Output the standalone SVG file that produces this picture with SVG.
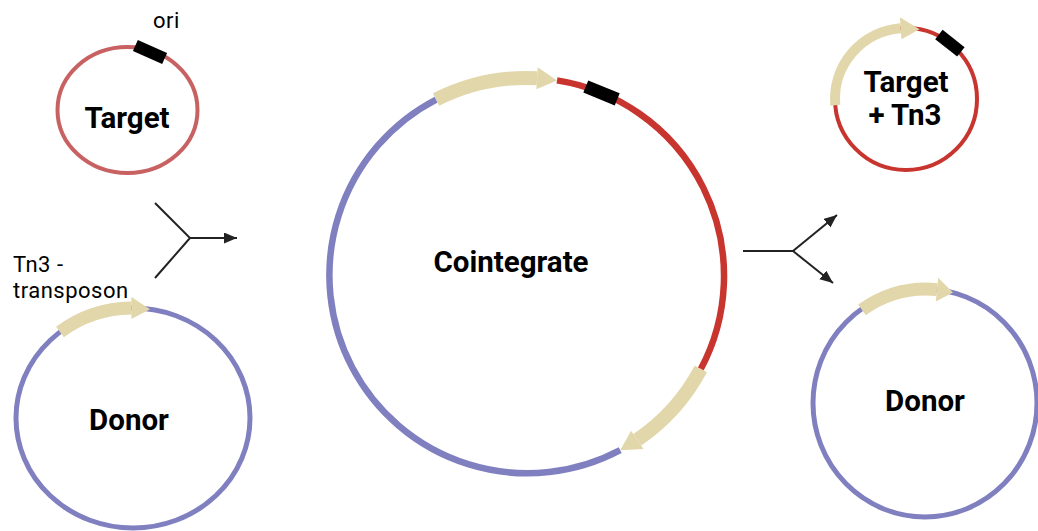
<svg xmlns="http://www.w3.org/2000/svg" width="1038" height="531" viewBox="0 0 1038 531">
<style>
.lbl{font-family:Roboto,"Liberation Sans",sans-serif;font-weight:bold;font-size:29.5px;fill:#000;text-anchor:middle}
.sm{font-family:Roboto,"Liberation Sans",sans-serif;font-size:22px;fill:#000}
.purple{fill:none;stroke:#8080c0}
.red{fill:none;stroke:#c8342e}
.tanb{fill:none;stroke:#e2d6ab}
.tanh{fill:#e2d6ab}
.ori{fill:#000}
.con{fill:none;stroke:#222;stroke-width:2}
</style>
<defs>
<marker id="ah" markerUnits="userSpaceOnUse" markerWidth="14" markerHeight="12" refX="13" refY="5.5" orient="auto">
<path d="M0,0 L13,5.5 L0,11 z" fill="#222"/>
</marker>
</defs>
<rect width="1038" height="531" fill="#fff"/>
<g id="target">
<ellipse cx="127.5" cy="110" rx="70" ry="63" fill="none" stroke="#c86262" stroke-width="4"/>
<rect x="-16" y="-6" width="32" height="12" class="ori" transform="translate(150,52) rotate(24)"/>
<text x="153" y="28" class="sm" letter-spacing="0.5">ori</text>
<text x="127" y="128" class="lbl">Target</text>
</g>
<g id="donor-left">
<ellipse cx="133" cy="418" rx="117" ry="110" class="purple" stroke-width="5"/>
<path d="M60,332 A117,110 0 0 1 131.4,308" class="tanb" stroke-width="13"/>
<polygon points="131.4,297 150,309.2 131.4,319" class="tanh"/>
<text x="13" y="272" class="sm" letter-spacing="0.5">Tn3 -</text>
<text x="13" y="298" class="sm" letter-spacing="0.5">transposon</text>
<text x="129" y="430" class="lbl">Donor</text>
</g>
<g id="cointegrate">
<path d="M620.2,450.2 A198,198 0 1 1 436.1,99.6" class="purple" stroke-width="6.5"/>
<path d="M557,80.4 A198,198 0 0 1 700.8,369" class="red" stroke-width="6.5"/>
<path d="M436.1,99.6 A198,198 0 0 1 537,78.3" class="tanb" stroke-width="14"/>
<polygon points="537.7,67.3 557,80.4 536.4,89.3" class="tanh"/>
<path d="M700.8,369 A198,198 0 0 1 637.3,439.8" class="tanb" stroke-width="14"/>
<polygon points="643.5,448.9 620.2,450.2 631.1,430.7" class="tanh"/>
<rect x="-17" y="-6.5" width="34" height="13" class="ori" transform="translate(601.5,92.9) rotate(22.4)"/>
<text x="511" y="272" class="lbl" font-size="30.5">Cointegrate</text>
</g>
<g id="target-tn3">
<circle cx="906" cy="99" r="71" class="red" stroke="#c93a33" stroke-width="4"/>
<path d="M835.3,105.2 A71,71 0 0 1 900.7,28.2" class="tanb" stroke-width="10"/>
<polygon points="899.9,17.2 919.5,29.3 901.5,39.2" class="tanh"/>
<rect x="-14" y="-6" width="28" height="12" class="ori" transform="translate(949.9,43.2) rotate(38.2)"/>
<text x="906" y="92" class="lbl">Target</text>
<text x="905" y="125" class="lbl">+ Tn3</text>
</g>
<g id="donor-right">
<ellipse cx="925" cy="403" rx="112" ry="114" class="purple" stroke-width="5"/>
<path d="M862,309.9 A112,114 0 0 1 937,289.6" class="tanb" stroke-width="13"/>
<polygon points="938.2,277.7 953,292.4 935.8,301.5" class="tanh"/>
<text x="925" y="411" class="lbl">Donor</text>
</g>
<g id="connectors">
<path d="M155,203 L190,238 L155,278" class="con"/>
<path d="M190,238 L237,238" class="con" marker-end="url(#ah)"/>
<path d="M743,251 L793,251" class="con"/>
<path d="M793,251 L837,215" class="con" marker-end="url(#ah)"/>
<path d="M793,251 L833,283" class="con" marker-end="url(#ah)"/>
</g>
</svg>
